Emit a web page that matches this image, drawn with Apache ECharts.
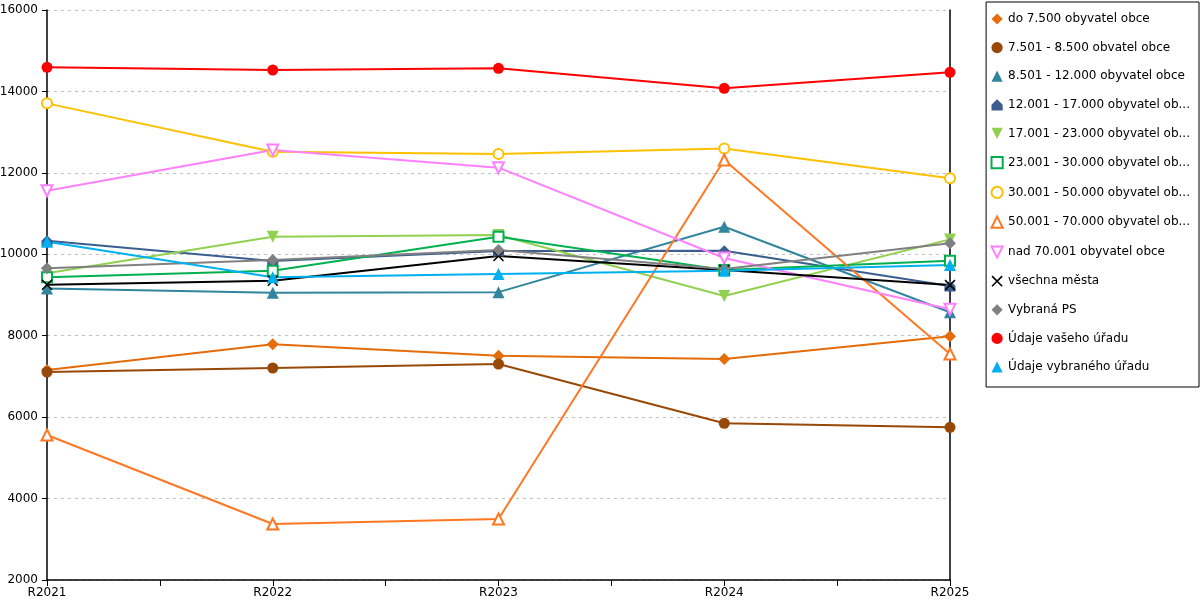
<!DOCTYPE html>
<html>
<head>
<meta charset="utf-8">
<script src="https://cdn.jsdelivr.net/npm/echarts@6/dist/echarts.min.js"></script>
<style>
  html, body { margin: 0; padding: 0; background: #fff; }
  #main { width: 1200px; height: 600px; }
</style>
</head>
<body>
<div id="main"></div>
<script>
const years = ["R2021", "R2022", "R2023", "R2024", "R2025"];

const do7500 = [7158, 7790, 7509, 7428, 7985];
const od7501 = [7108, 7207, 7305, 5848, 5750];
const od8501 = [9160, 9056, 9070, 10677, 8575];
const od12001 = [10333, 9835, 10080, 10088, 9220];
const od17001 = [9533, 10432, 10473, 8975, 10366];
const od23001 = [9434, 9597, 10432, 9614, 9842];
const od30001 = [13707, 12519, 12462, 12601, 11866];
const od50001 = [5561, 3375, 3498, 12315, 7551];
const nad70001 = [11561, 12561, 12127, 9909, 8649];
const vsechna = [9250, 9350, 9958, 9614, 9245];
const vybranaPS = [9655, 9859, 10105, 9638, 10270];
const vaseho = [14592, 14526, 14567, 14076, 14469];
const vybraneho = [10310, 9434, 9515, 9597, 9737];

const yTicks = { min: 2000, max: 16000, step: 2000 };

const house = "path://M5,0 L10,5 L10,10 L0,10 L0,5 Z";
const cross = "path://M0,1 L1,0 L5,4 L9,0 L10,1 L6,5 L10,9 L9,10 L5,6 L1,10 L0,9 L4,5 Z";

function pts(arr) {
  return arr.map((v, i) => [i, v]);
}

function mk(name, data, color, symbol, opts) {
  opts = opts || {};
  const hollow = symbol.indexOf("empty") === 0;
  return {
    name: name,
    type: "line",
    data: pts(data),
    symbol: symbol,
    symbolSize: opts.size || 10,
    symbolRotate: opts.rotate || 0,
    showAllSymbol: true,
    lineStyle: { color: color, width: 2 },
    itemStyle: hollow
      ? { color: color, borderColor: color, borderWidth: 1 }
      : { color: color, borderWidth: 0 },
    emphasis: { disabled: true }
  };
}

const series = [
  mk("do 7.500 obyvatel obce", do7500, "#E46C0A", "diamond", { size: 12 }),
  mk("7.501 - 8.500 obvatel obce", od7501, "#984807", "circle", { size: 11 }),
  mk("8.501 - 12.000 obyvatel obce", od8501, "#31859C", "triangle", { size: 12 }),
  mk("12.001 - 17.000 obyvatel obce", od12001, "#3A5F8F", house, { size: 11 }),
  mk("17.001 - 23.000 obyvatel obce", od17001, "#92D050", "triangle", { size: 12, rotate: 180 }),
  mk("23.001 - 30.000 obyvatel obce", od23001, "#00B050", "emptyRect", { size: 10 }),
  mk("30.001 - 50.000 obyvatel obce", od30001, "#FFC000", "emptyCircle", { size: 10 }),
  mk("50.001 - 70.000 obyvatel obce", od50001, "#FF7722", "emptyTriangle", { size: 11 }),
  mk("nad 70.001 obyvatel obce", nad70001, "#FF80FF", "emptyTriangle", { size: 11, rotate: 180 }),
  mk("všechna města", vsechna, "#000000", cross, { size: 11 }),
  mk("Vybraná PS", vybranaPS, "#808080", "diamond", { size: 12 }),
  mk("Údaje vašeho úřadu", vaseho, "#FF0000", "circle", { size: 11 }),
  mk("Údaje vybraného úřadu", vybraneho, "#00B0F0", "triangle", { size: 12 })
];

const chart = echarts.init(document.getElementById("main"), null, { renderer: "canvas" });

chart.setOption({
  animation: false,
  textStyle: { fontFamily: "DejaVu Sans" },
  grid: { left: 47, right: 250, top: 10, bottom: 20, containLabel: false, outerBoundsMode: "none" },
  legend: {
    orient: "vertical",
    right: 1,
    top: 2,
    padding: [11, 9, 14, 4],
    itemGap: 16.6,
    itemWidth: 12,
    itemHeight: 14,
    borderColor: "#000",
    borderWidth: 1,
    selectedMode: false,
    lineStyle: { opacity: 0 },
    textStyle: {
      fontFamily: "DejaVu Sans",
      fontSize: 12,
      color: "#000",
      width: 184,
      overflow: "truncate",
      ellipsis: "..."
    }
  },
  xAxis: {
    type: "value",
    min: 0,
    max: years.length - 1,
    interval: 0.5,
    axisLine: { lineStyle: { color: "#000", width: 1.5 } },
    axisTick: { show: true, length: 6, lineStyle: { color: "#000", width: 1 } },
    splitLine: { show: false },
    axisLabel: {
      color: "#000",
      fontSize: 12,
      margin: 7,
      showMinLabel: true,
      showMaxLabel: true,
      hideOverlap: false,
      formatter: function (v) {
        return Number.isInteger(v) ? years[v] : "";
      }
    }
  },
  yAxis: [
    {
      type: "value",
      min: yTicks.min,
      max: yTicks.max,
      interval: yTicks.step,
      axisLine: { show: true, lineStyle: { color: "#000", width: 1.5 } },
      axisTick: { show: true, length: 5, lineStyle: { color: "#000" } },
      splitLine: { show: true, lineStyle: { color: "#c0c0c0", type: [3, 4], width: 1 } },
      axisLabel: {
        color: "#000",
        fontSize: 12,
        margin: 9,
        formatter: function (v) { return String(v); }
      }
    },
    {
      type: "value",
      position: "right",
      min: yTicks.min,
      max: yTicks.max,
      interval: yTicks.step,
      axisLine: { show: true, lineStyle: { color: "#000", width: 1.5 } },
      axisTick: { show: false },
      axisLabel: { show: false },
      splitLine: { show: false }
    }
  ],
  series: series
});
</script>
</body>
</html>
